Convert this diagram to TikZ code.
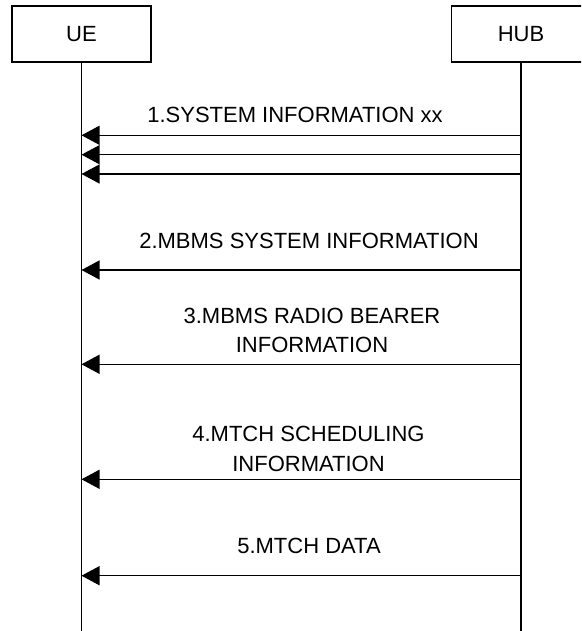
\documentclass[tikz,border=0pt]{standalone}
\usepackage{fontspec}
\setmainfont{Liberation Sans}
\usetikzlibrary{arrows.meta}
\begin{document}
\begin{tikzpicture}[x=1pt,y=-1pt,
  actor/.style={draw, line width=1.3pt, minimum width=139pt, minimum height=56pt, inner sep=0pt,
                font=\fontsize{22}{29.5}\selectfont},
  life/.style={line width=1.3pt},
  msg/.style={line width=1.3pt, -{Triangle[length=18pt,width=19pt]}},
  lbl/.style={anchor=south, inner sep=0pt, align=center, font=\fontsize{22}{29.5}\selectfont}]
\useasboundingbox (0,0) rectangle (581,631);
\clip (0,0) rectangle (581,631);
\node[actor] (ue) at (81.5,34) {UE};
\node[actor] (hub) at (521,34) {HUB};
\coordinate (ueend) at (81.5,631);
\coordinate (hubend) at (521,631);
\draw[life] (ue.south) -- (ueend);
\draw[life] (hub.south) -- (hubend);
% message end points on the lifelines
\foreach \n/\y in {a/135.3, b/154.7, c/174, d/270, e/364.3, f/479.3, g/575.7}{
  \coordinate (u\n) at (81.5,\y);
  \coordinate (h\n) at (521,\y);
}
\foreach \n in {a,b,c,d,e,f,g}{
  \draw[msg] (h\n) -- (u\n);
}
\node[lbl] (t1) at (295,123.3) {1.SYSTEM INFORMATION xx};
\node[lbl] (t2) at (309,249.3) {2.MBMS SYSTEM INFORMATION};
\node[lbl] (t3) at (312,353.3) {3.MBMS RADIO BEARER\\INFORMATION};
\node[lbl] (t4) at (308.5,471.7) {4.MTCH SCHEDULING\\INFORMATION};
\node[lbl] (t5) at (309,554) {5.MTCH DATA};
\end{tikzpicture}
\end{document}
